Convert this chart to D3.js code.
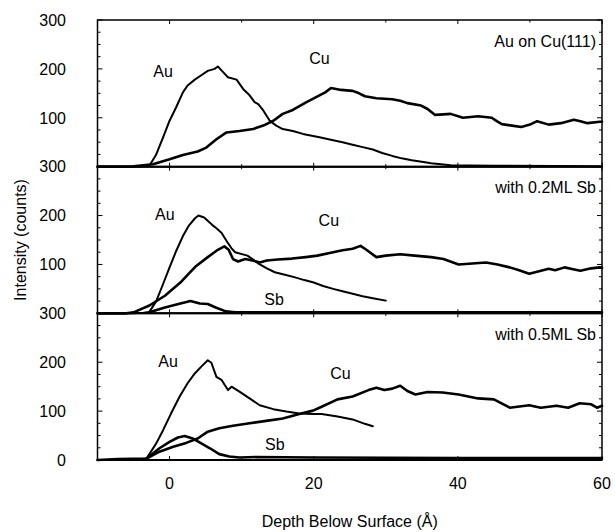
<!DOCTYPE html>
<html>
<head>
<meta charset="utf-8">
<script src="https://cdn.jsdelivr.net/npm/d3@7"></script>
<style>
  body { margin: 0; background: #fff; }
  svg text { font-family: "Liberation Sans", Arial, Helvetica, sans-serif; fill: #000; }
</style>
</head>
<body>
<svg id="chart" width="615" height="532"></svg>
<script>
// Depth profiles: [depth (Å), intensity (counts)]
const xTickValues = [0, 20, 40, 60];
const panelTitles = ["Au on Cu(111)", "with 0.2ML Sb", "with 0.5ML Sb"];
const panelYTicks = [[300, 200, 100], [300, 200, 100], [300, 200, 100, 0]];

const auClean = [[-10,0],[-6,0],[-3.6,1],[-2.8,2],[-1.85,25],[-0.9,60],[0,94],[0.9,121],[1.85,152],[2.5,166],[3.5,178],[4.4,187],[5.3,196],[6.25,200],[6.7,205],[7.2,197],[8.1,183],[9.3,178],[10.2,159],[11.1,146],[11.8,132],[12.3,128],[13,115],[13.9,94],[14.8,84],[15.7,77],[17.1,73],[18.5,67],[20.8,60],[22.7,54],[24,50],[25.4,45],[26.8,40],[28.2,35],[29.5,28],[30.9,22],[32.2,17],[33.6,13],[35,10],[36.3,7],[39,3],[45,2],[60,1]];
const cuClean = [[-10,0],[-7,0],[-5,1],[-2.3,5],[0,15],[1.85,24],[3.9,31],[5.1,39],[6.5,56],[7.9,70],[9.7,73],[11.6,77],[13,84],[14.4,94],[15.7,108],[17.1,116],[19,132],[20.8,146],[21.6,152],[22.4,161],[23.1,159],[23.8,157],[25.4,155],[26.3,150],[27.1,144],[28.7,140],[30.9,138],[32,135],[33,130],[34.9,125],[35.8,118],[36.8,106],[38,107],[39,108],[40.7,100],[42.8,103],[44.7,100],[45.4,93],[46.1,87],[47.5,84],[48.8,81],[50,86],[51,93],[52.6,86],[54.3,89],[56.1,96],[57,93],[58,89],[59.7,92],[60,92]];

const auSb02 = [[-10,0],[-5,0],[-3.6,1],[-2.8,3],[-1.85,25],[-0.9,60],[0,94],[0.9,127],[1.85,158],[2.7,180],[3.5,194],[4.0,200],[4.8,196],[5.9,181],[6.5,174],[7.2,165],[8.0,146],[8.6,133],[9.1,125],[10.8,118],[11.6,110],[12.4,101],[13.5,92],[14.6,84],[16,79],[17.3,74],[18.7,68],[20,63],[21.3,56],[22.7,50],[24,45],[25.4,40],[26.8,35],[28.2,31],[30,26]];
const cuSb02 = [[-10,0],[-6,0],[-5,2],[-2.8,16],[-0.65,36],[1.5,63],[2.6,80],[3.7,97],[5.3,115],[6.7,130],[7.6,137],[8.2,130],[8.8,111],[9.5,106],[10.5,111],[11.5,108],[12.5,104],[13.5,108],[15,110],[17,112],[18.9,115],[20.5,118],[22.7,125],[24,129],[25.4,132],[26.5,138],[27.3,130],[28.7,115],[30,118],[32,121],[34,118],[36.3,115],[38,111],[40.1,100],[42,102],[43.9,104],[45.5,100],[47.2,94],[48.5,88],[49.9,81],[51,85],[52.6,91],[53.5,88],[54.8,94],[56,90],[57,87],[58.5,92],[59.7,94],[60,93]];
const sbSb02 = [[-2.8,2],[-0.65,12],[1.5,20],[2.9,25],[4.2,20],[5.3,19],[6.4,12],[7.8,4],[9.1,2],[20,2],[40,2],[60,2]];

const auSb05 = [[-10,0],[-6,0],[-4.5,1],[-3.2,3],[-1.85,34],[-0.9,61],[0.2,95],[1.4,130],[2.5,157],[3.5,177],[4.4,191],[5.3,204],[5.8,199],[6.5,170],[7.2,164],[8.1,143],[8.6,150],[9.7,140],[11.1,126],[12.5,112],[14.4,104],[16.2,99],[18,95],[19.9,94],[21.1,94],[23.3,89],[25.4,83],[27.1,74],[28.2,69]];
const cuSb05 = [[-10,0],[-7.2,2],[-3.2,3],[-1.4,17],[0.5,27],[2.3,35],[3.9,44],[5.3,58],[6.9,65],[8.8,70],[11.1,75],[13.4,80],[15.7,85],[18,94],[19.9,101],[21.1,109],[23.3,124],[25.4,130],[27.6,143],[28.7,148],[29.8,143],[30.9,146],[32,152],[33,141],[34.1,134],[35.8,139],[37.9,138],[40.1,134],[42.8,126],[45,124],[47.2,107],[49.9,112],[51.5,107],[53.7,111],[55.3,107],[56.9,116],[58.5,114],[59.3,107],[60,111]];
const sbSb05 = [[-3.2,3],[-1.4,24],[0,37],[1.15,46],[2.1,49],[3.2,44],[4.4,34],[5.6,24],[6.9,12],[8.3,7],[9.7,5],[12,6],[20,5],[40,4],[60,4]];

// Element labels: [text, depth, intensity] anchored by their centre
const labelsClean = [["Au", -0.9, 195], ["Cu", 20.8, 222]];
const labelsSb02 = [["Au", -0.65, 203], ["Cu", 22.1, 190], ["Sb", 14.5, 29]];
const labelsSb05 = [["Au", -0.2, 201], ["Cu", 23.7, 177], ["Sb", 14.6, 32]];

const panels = [
  { title: panelTitles[0], ticks: panelYTicks[0], series: [auClean, cuClean], labels: labelsClean },
  { title: panelTitles[1], ticks: panelYTicks[1], series: [auSb02, cuSb02, sbSb02], labels: labelsSb02 },
  { title: panelTitles[2], ticks: panelYTicks[2], series: [auSb05, cuSb05, sbSb05], labels: labelsSb05 }
];

const frameLeft = 97.5, frameRight = 602, frameTop = 20, frameBottom = 460;
const panelH = (frameBottom - frameTop) / panels.length;

const svg = d3.select("#chart");
const x = d3.scaleLinear().domain([-10, 60]).range([frameLeft, frameRight]);

panels.forEach((p, i) => {
  const y0 = frameTop + i * panelH;
  const y = d3.scaleLinear().domain([0, 300]).range([y0 + panelH, y0]);
  const g = svg.append("g");

  // inward ticks on all four sides
  const minorY = d3.range(0, 301, 25);
  g.selectAll(null).data(minorY).join("line")
    .attr("x1", frameLeft).attr("x2", d => frameLeft + (d % 100 === 0 ? 5 : 3))
    .attr("y1", d => y(d)).attr("y2", d => y(d))
    .attr("stroke", "#000").attr("stroke-width", 1);
  g.selectAll(null).data(minorY).join("line")
    .attr("x1", frameRight).attr("x2", d => frameRight - (d % 100 === 0 ? 5 : 3))
    .attr("y1", d => y(d)).attr("y2", d => y(d))
    .attr("stroke", "#000").attr("stroke-width", 1);
  const minorX = d3.range(-10, 61, 10);
  [y(0), y(300)].forEach((yy, k) => {
    g.selectAll(null).data(minorX).join("line")
      .attr("x1", d => x(d)).attr("x2", d => x(d))
      .attr("y1", yy).attr("y2", d => yy + (k === 0 ? -1 : 1) * (d % 20 === 0 ? 4 : 2.5))
      .attr("stroke", "#000").attr("stroke-width", 1);
  });

  // y tick labels
  g.selectAll(null).data(p.ticks).join("text")
    .attr("x", 66).attr("y", d => y(d))
    .attr("dy", "0.36em")
    .attr("text-anchor", "end")
    .attr("font-size", 16)
    .text(d => d);

  // profiles
  const line = d3.line().x(d => x(d[0])).y(d => y(d[1]));
  p.series.forEach((s, k) => {
    g.append("path").datum(s)
      .attr("d", line)
      .attr("fill", "none")
      .attr("stroke", "#000")
      .attr("stroke-width", k === 0 ? 2 : 2.6)
      .attr("stroke-linejoin", "round")
      .attr("stroke-linecap", "round");
  });

  // element labels
  g.selectAll(null).data(p.labels).join("text")
    .attr("x", d => x(d[1])).attr("y", d => y(d[2]))
    .attr("dy", "0.36em")
    .attr("text-anchor", "middle")
    .attr("font-size", 16)
    .text(d => d[0]);

  // panel title
  g.append("text")
    .attr("x", frameRight - 6).attr("y", y0 + 21)
    .attr("dy", "0.36em")
    .attr("text-anchor", "end")
    .attr("font-size", 16)
    .text(p.title);

  // frame
  g.append("rect")
    .attr("x", frameLeft).attr("y", y0)
    .attr("width", frameRight - frameLeft).attr("height", panelH)
    .attr("fill", "none").attr("stroke", "#000").attr("stroke-width", 1.5);
  g.append("line")
    .attr("x1", frameLeft).attr("x2", frameRight)
    .attr("y1", y0 + panelH).attr("y2", y0 + panelH)
    .attr("stroke", "#000").attr("stroke-width", 2);
});

// x axis labels
svg.selectAll(null).data(xTickValues).join("text")
  .attr("x", d => x(d)).attr("y", 483)
  .attr("dy", "0.36em")
  .attr("text-anchor", "middle")
  .attr("font-size", 16)
  .text(d => d);

svg.append("text")
  .attr("x", (frameLeft + frameRight) / 2).attr("y", 521)
  .attr("dy", "0.36em")
  .attr("text-anchor", "middle")
  .attr("font-size", 16)
  .text("Depth Below Surface (Å)");

svg.append("text")
  .attr("transform", `translate(20,${(frameTop + frameBottom) / 2}) rotate(-90)`)
  .attr("dy", "0.36em")
  .attr("text-anchor", "middle")
  .attr("font-size", 16)
  .text("Intensity (counts)");
</script>
</body>
</html>
